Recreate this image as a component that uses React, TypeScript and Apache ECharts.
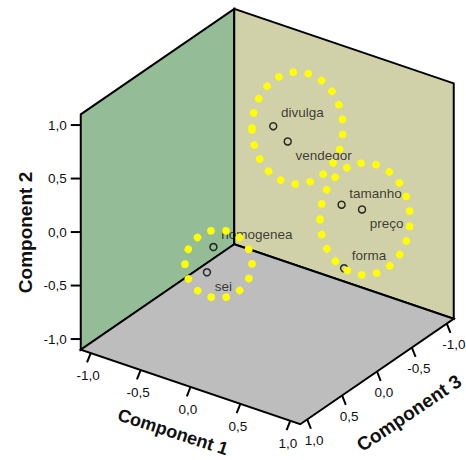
import React, { useEffect, useRef } from "react";
import * as echarts from "echarts";

// ---- data (component loadings) ----
const variables = ["divulga", "vendedor", "tamanho", "preço", "forma", "homogenea", "sei"];
const component1 = [0.13, 0.24, 0.78, 0.88, 0.77, 0.02, -0.08];
const component2 = [0.93, 0.8, 0.38, 0.3, -0.24, 0.08, -0.21];
const component3 = [0.1, 0.05, 0.05, -0.1, 0.0, 0.8, 0.75];
const tickValues = [-1.0, -0.5, 0.0, 0.5, 1.0];
const tickLabels = ["-1,0", "-0,5", "0,0", "0,5", "1,0"];
const axisTitles = ["Component 1", "Component 2", "Component 3"];

// ---- layout / style ----
const W = 466;
const H = 460;
const R = 1.1; // axis extent of the cube
const ORIGIN = [267.25, 216.55];
const U1 = [99.77, 33.86];
const U2 = [0, -107];
const U3 = [-69.77, 47.95];
const FONT = "'Liberation Sans', Arial, sans-serif";
const TEXT = "#111";
const GREEN = "#94bc96";
const BEIGE = "#d1d1a9";
const GRAY = "#bdbdbd";
const YELLOW = "#ffff00";
const LABEL_DY = [-13.5, 14, -11.5, 14, -13, -12.5, 14];
// hand-drawn annotation ellipses (canvas coordinates)
const ANNOTATIONS = [
  { cx: 297.5, cy: 128, rx: 45.5, ry: 56 },
  { cx: 365, cy: 219, rx: 45, ry: 56 },
  { cx: 218.5, cy: 264, rx: 33.5, ry: 34 },
];

function project(c1: number, c2: number, c3: number): number[] {
  return [
    ORIGIN[0] + U1[0] * c1 + U2[0] * c2 + U3[0] * c3,
    ORIGIN[1] + U1[1] * c1 + U2[1] * c2 + U3[1] * c3,
  ];
}

export default function App() {
  const ref = useRef<HTMLDivElement>(null);
  useEffect(() => {
    if (!ref.current) return;
    const chart = echarts.init(ref.current, undefined, { renderer: "svg" });

    const boxRender = (params: any, api: any) => {
      const P = (a: number, b: number, c: number) => api.coord(project(a, b, c));
      const children: any[] = [];
      const faces = [
        { fill: GREEN, pts: [P(-R, -R, R), P(-R, R, R), P(-R, R, -R), P(-R, -R, -R)] },
        { fill: BEIGE, pts: [P(-R, -R, -R), P(-R, R, -R), P(R, R, -R), P(R, -R, -R)] },
        { fill: GRAY, pts: [P(-R, -R, -R), P(R, -R, -R), P(R, -R, R), P(-R, -R, R)] },
      ];
      faces.forEach((f) =>
        children.push({
          type: "polygon",
          shape: { points: f.pts },
          style: { fill: f.fill, stroke: "#000", lineWidth: 2, lineJoin: "miter" },
        })
      );
      const tickStyle = { stroke: "#000", lineWidth: 2 };
      const textStyle = (text: string, align: string) => ({
        text,
        fill: TEXT,
        fontSize: 13.5,
        fontFamily: FONT,
        align,
        verticalAlign: "middle",
      });
      tickValues.forEach((v, i) => {
        // Component 2 (vertical, left edge)
        const p2 = P(-R, v, R);
        children.push({ type: "line", shape: { x1: p2[0] - 10, y1: p2[1], x2: p2[0], y2: p2[1] }, style: tickStyle });
        children.push({ type: "text", x: p2[0] - 14, y: p2[1], style: textStyle(tickLabels[i], "right") });
        // Component 1 (front-left floor edge)
        const p1 = P(v, -R, R);
        children.push({ type: "line", shape: { x1: p1[0], y1: p1[1], x2: p1[0] - 3.7, y2: p1[1] + 9.3 }, style: tickStyle });
        children.push({ type: "text", x: p1[0] - 2.5, y: p1[1] + 22.5, style: textStyle(tickLabels[i], "center") });
        // Component 3 (front-right floor edge)
        const p3 = P(R, -R, v);
        children.push({ type: "line", shape: { x1: p3[0], y1: p3[1], x2: p3[0] + 3.7, y2: p3[1] + 9.3 }, style: tickStyle });
        children.push({ type: "text", x: p3[0] + 7, y: p3[1] + 21, style: textStyle(tickLabels[i], "center") });
      });
      const titleStyle = (text: string, size: number) => ({
        text,
        fill: TEXT,
        fontSize: size,
        fontWeight: "bold",
        fontFamily: FONT,
        align: "center",
        verticalAlign: "middle",
      });
      const t1 = api.coord([173, 432]);
      const t2 = api.coord([25, 232.5]);
      const t3 = api.coord([409, 413]);
      children.push({ type: "text", x: t1[0], y: t1[1], rotation: (-18 * Math.PI) / 180, style: titleStyle(axisTitles[0], 18) });
      children.push({ type: "text", x: t2[0], y: t2[1], rotation: Math.PI / 2, style: titleStyle(axisTitles[1], 19) });
      children.push({ type: "text", x: t3[0], y: t3[1], rotation: (34 * Math.PI) / 180, style: titleStyle(axisTitles[2], 19) });
      return { type: "group", children };
    };

    const ellipseRender = (params: any, api: any) => {
      const a = ANNOTATIONS[params.dataIndex];
      const c = api.coord([a.cx, a.cy]);
      const s = api.size([a.rx, a.ry]);
      return {
        type: "ellipse",
        shape: { cx: c[0], cy: c[1], rx: s[0], ry: s[1] },
        style: { fill: "none", stroke: YELLOW, lineWidth: 7.5, lineDash: [0.1, 15], lineCap: "round" },
      };
    };

    const points = variables.map((name, i) => ({
      name,
      value: project(component1[i], component2[i], component3[i]),
      label: { offset: [0, LABEL_DY[i]] },
    }));

    chart.setOption({
      animation: false,
      grid: { left: 0, right: 0, top: 0, bottom: 0 },
      xAxis: { type: "value", min: 0, max: W, show: false },
      yAxis: { type: "value", min: 0, max: H, inverse: true, show: false },
      series: [
        {
          type: "custom",
          z: 1,
          clip: false,
          silent: true,
          renderItem: boxRender,
          data: [[0, 0]],
        },
        {
          type: "scatter",
          z: 3,
          symbol: "circle",
          symbolSize: 7,
          itemStyle: { color: "rgba(0,0,0,0)", borderColor: "#000", borderWidth: 1.5 },
          label: {
            show: true,
            formatter: "{b}",
            position: "right",
            distance: 3.5,
            color: TEXT,
            fontSize: 13.5,
            fontFamily: FONT,
          },
          data: points,
        },
        {
          type: "custom",
          z: 5,
          clip: false,
          silent: true,
          renderItem: ellipseRender,
          data: ANNOTATIONS.map((a, i) => [i, 0]),
        },
      ],
    });
    return () => chart.dispose();
  }, []);
  return (
    <div
      ref={ref}
      style={{ position: "fixed", left: 0, top: 0, width: W, height: H, background: "#fff" }}
    />
  );
}
